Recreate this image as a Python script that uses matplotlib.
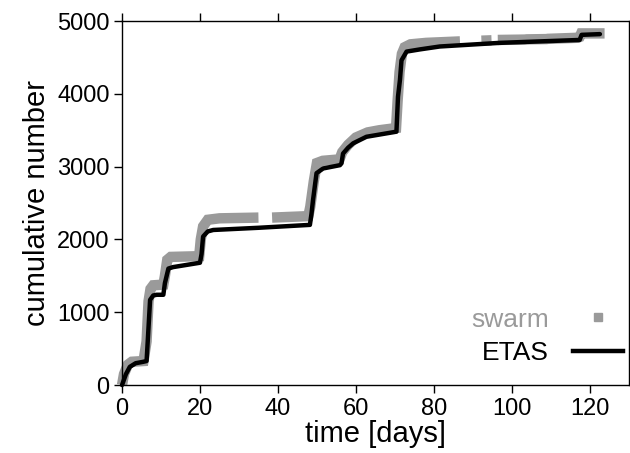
import matplotlib
matplotlib.use("Agg")
import matplotlib.pyplot as plt
from matplotlib.lines import Line2D
import numpy as np

plt.rcParams["font.family"] = ["Liberation Sans", "DejaVu Sans"]

# swarm catalogue (cumulative count); nan marks a gap without events
swarm_days = [0.0, 0.5, 1.5, 2.5, 5.5, 6.3, 6.8, 7.3, 8.0, 10.6, 11.0, 11.6, 12.5, 19.8, 20.2,
              20.8, 22.0, 25.0, 35.0, np.nan, 38.5, 47.8, 48.3, 49.2, 50.0, 51.5, 55.8, 56.5,
              58.0, 60.0, 63.0, 66.0, 70.3, 70.7, 71.2, 71.8, 72.5, 74.0, 78.0, 86.7, np.nan,
              92.2, 94.8, np.nan, 96.4, 103.3, 103.8, 108.9, 109.2, 116.9, 117.4, 117.8, 123.8]
swarm_counts = [0, 150, 280, 320, 330, 600, 1150, 1320, 1370, 1380, 1500, 1720, 1760, 1770, 2000,
                2180, 2270, 2290, 2300, np.nan, 2300, 2320, 2450, 2800, 3050, 3080, 3100, 3200,
                3300, 3400, 3470, 3500, 3530, 3900, 4300, 4550, 4640, 4680, 4700, 4720, np.nan,
                4730, 4735, np.nan, 4740, 4745, 4748, 4752, 4755, 4770, 4780, 4830, 4830]

# ETAS model (cumulative count)
etas_days = [0.0, 1.0, 2.0, 3.5, 5.5, 6.3, 6.7, 7.2, 8.0, 8.9, 10.6, 11.0, 11.9, 13.1, 20.0,
             20.4, 20.8, 22.0, 23.4, 35.0, 48.2, 48.6, 49.0, 49.9, 51.6, 55.9, 56.3, 56.7,
             58.0, 59.3, 62.7, 66.0, 70.4, 70.8, 71.3, 71.7, 73.0, 76.4, 81.5, 96.9, 117.4,
             117.9, 122.6]
etas_counts = [0, 150, 250, 300, 320, 330, 700, 1170, 1230, 1240, 1240, 1400, 1600, 1620, 1680,
               1800, 2040, 2110, 2130, 2160, 2200, 2350, 2540, 2910, 2975, 3020, 3045, 3180,
               3260, 3320, 3410, 3440, 3480, 3960, 4190, 4460, 4580, 4610, 4650, 4700, 4740,
               4810, 4820]

x_ticks = [0, 20, 40, 60, 80, 100, 120]
y_ticks = [0, 1000, 2000, 3000, 4000, 5000]

swarm_color = "#9a9a9a"

fig = plt.figure(figsize=(6.3, 4.53), dpi=100)
ax = fig.add_axes([0.1937, 0.150, 0.8043, 0.8036])

ax.plot(swarm_days, swarm_counts, color=swarm_color, linewidth=7.5,
        solid_capstyle="butt", solid_joinstyle="miter", zorder=2, clip_on=False)
ax.plot(etas_days, etas_counts, color="black", linewidth=3.2,
        solid_capstyle="round", solid_joinstyle="round", zorder=3, clip_on=False)

ax.set_xlim(0, 130)
ax.set_ylim(0, 5000)
ax.set_xticks(x_ticks)
ax.set_yticks(y_ticks)
ax.tick_params(axis="both", which="both", direction="out", length=6, width=1,
               labelsize=17, top=True, right=False, pad=3)
for sp in ax.spines.values():
    sp.set_linewidth(1)

ax.set_xlabel("time [days]", fontsize=21, labelpad=0)
ax.set_ylabel("cumulative number", fontsize=21, labelpad=4)

handles = [
    Line2D([], [], color=swarm_color, marker="s", markersize=5.5, linestyle="none"),
    Line2D([], [], color="black", linewidth=3.2),
]
leg = ax.legend(handles, ["swarm", "ETAS"], loc="lower right", frameon=False,
                markerfirst=False, fontsize=19, handlelength=1.9, handletextpad=0.9,
                labelspacing=0.35, borderaxespad=0.3,
                bbox_to_anchor=(1.025, 0.005))
leg.get_texts()[0].set_color(swarm_color)

fig.savefig("out.png", dpi=100)
